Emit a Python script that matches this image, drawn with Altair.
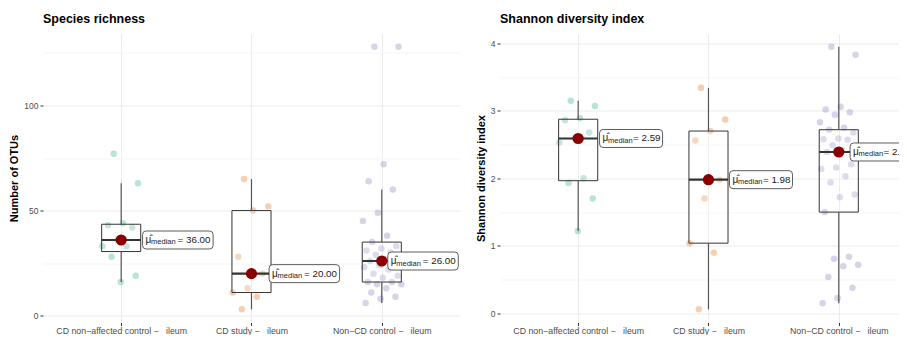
import altair as alt
import pandas as pd

# ---------------- data ----------------
groups = ["CD non\u2212affected control", "CD study", "Non\u2212CD control"]
palette = ["#1B9E77", "#D95F02", "#7570B3"]

richness_cd_nonaffected = [77, 63, 44, 43, 42, 36, 33, 33, 28, 19, 16]
richness_cd_study = [65, 52, 50, 28, 20, 13, 11, 9, 3]
richness_non_cd = [128, 128, 72, 64, 60, 49, 45, 38, 35, 33, 32, 31, 30, 29, 28, 27,
                   26, 25, 24, 23, 22, 20, 19, 18, 16, 16, 15, 15, 13, 11, 9, 8, 6]

shannon_cd_nonaffected = [3.15, 3.07, 2.89, 2.86, 2.68, 2.59, 2.53, 2.00, 1.93, 1.70, 1.22]
shannon_cd_study = [3.34, 2.87, 2.70, 2.56, 1.98, 1.70, 1.04, 0.90, 0.06]
shannon_non_cd = [3.95, 3.83, 3.06, 3.02, 2.98, 2.94, 2.83, 2.75, 2.72, 2.68, 2.59, 2.58,
                  2.57, 2.49, 2.46, 2.42, 2.39, 2.21, 2.16, 2.14, 2.03, 1.94, 1.76, 1.72,
                  1.50, 0.84, 0.81, 0.72, 0.70, 0.54, 0.38, 0.23, 0.15]

FONT = "Liberation Sans"
NB = "\u00a0"
PX_PER_UNIT = 130.3
PLOT_H = 289


def long_df(series):
    rows = []
    for k, (g, vals) in enumerate(zip(groups, series)):
        for i, v in enumerate(vals):
            rows.append({"group": g, "pos": k + 1, "i": i, "value": v})
    return pd.DataFrame(rows)


def label_expr(series):
    parts = []
    for k, (g, vals) in enumerate(zip(groups, series)):
        l1 = f"{g} \u2212{NB}{NB} ileum"
        l2 = f"(n = {len(vals)})"
        parts.append((k + 1, f"['{l1}', '{l2}']"))
    expr = parts[-1][1]
    for pos, arr in reversed(parts[:-1]):
        expr = f"datum.value == {pos} ? {arr} : ({expr})"
    return expr


def rounded_rect_path(w, h, r):
    s = w / 2.0
    hw, hh, rr = 1.0, h / 2.0 / s, r / s
    f = lambda v: f"{v:.4f}"
    return (f"M{f(-hw+rr)},{f(-hh)} L{f(hw-rr)},{f(-hh)} Q{f(hw)},{f(-hh)} {f(hw)},{f(-hh+rr)} "
            f"L{f(hw)},{f(hh-rr)} Q{f(hw)},{f(hh)} {f(hw-rr)},{f(hh)} "
            f"L{f(-hw+rr)},{f(hh)} Q{f(-hw)},{f(hh)} {f(-hw)},{f(hh-rr)} "
            f"L{f(-hw)},{f(-hh+rr)} Q{f(-hw)},{f(-hh)} {f(-hw+rr)},{f(-hh)} Z")


def panel(series, title, ytitle, major_step, minor_step, label_w, label_gaps, eq_dx, width):
    df = long_df(series)
    allv = [v for s in series for v in s]
    lo, hi = min(allv), max(allv)
    ex = (hi - lo) * 0.05
    ydom = [lo - ex, hi + ex]
    n_minor = int((hi + ex) // minor_step) + 1
    yvals = [round(j * minor_step, 4) for j in range(0, n_minor)]

    xs = alt.Scale(domain=[0.4, 0.4 + width / PX_PER_UNIT], nice=False, zero=False)
    ys = alt.Scale(domain=ydom, nice=False, zero=False)

    test_major = f"abs(datum.value / {major_step} - round(datum.value / {major_step})) < 0.001"
    xax = alt.Axis(values=[1, 2, 3], labelExpr=label_expr(series), grid=True,
                   gridColor="#EBEBEB", gridWidth=1, ticks=True, tickSize=3,
                   tickColor="#333333", labelFontSize=8.8, labelColor="#4D4D4D",
                   labelPadding=1, labelLineHeight=10, domain=False, labelFont=FONT)
    yax = alt.Axis(values=yvals, grid=True,
                   gridColor={"condition": {"test": test_major, "value": "#EBEBEB"}, "value": "#F5F5F5"},
                   tickOpacity={"condition": {"test": test_major, "value": 1}, "value": 0},
                   labelExpr=f"({test_major}) ? format(datum.value, '~g') : ''",
                   tickSize=3, tickColor="#333333", labelFontSize=8.5, labelColor="#4D4D4D",
                   labelPadding=2, domain=False, titleFontSize=11, titleFontWeight="bold",
                   titleColor="#000000", titlePadding=4, titleFont=FONT, labelFont=FONT)

    def X(f):
        return alt.X(f, scale=xs, axis=xax, title=None)

    def Y(f):
        return alt.Y(f, scale=ys, axis=yax, title=ytitle)

    base = alt.Chart(df)

    pts = base.transform_calculate(
        xj="datum.pos + ((datum.i * 0.618034 + 0.31) % 1 - 0.5) * 0.3"
    ).mark_circle(size=42, opacity=0.3).encode(
        x=X("xj:Q"), y=Y("value:Q"),
        color=alt.Color("group:N", scale=alt.Scale(domain=groups, range=palette), legend=None),
    )

    gaps = "[" + ", ".join(str(g) for g in label_gaps) + "]"
    stats = base.transform_joinaggregate(
        q1="q1(value)", q3="q3(value)", med="median(value)", groupby=["pos"]
    ).transform_calculate(
        lof="datum.q1 - 1.5 * (datum.q3 - datum.q1)",
        hif="datum.q3 + 1.5 * (datum.q3 - datum.q1)",
    ).transform_filter(
        "datum.value >= datum.lof && datum.value <= datum.hif"
    ).transform_aggregate(
        wmin="min(value)", wmax="max(value)", bq1="min(q1)", bq3="min(q3)", bmed="min(med)",
        groupby=["pos"],
    ).transform_calculate(
        xl="datum.pos - 0.15", xr="datum.pos + 0.15",
        lab="'= ' + format(datum.bmed, '.2f')",
        lx=f"datum.pos + {gaps}[datum.pos - 1] / {PX_PER_UNIT}",
    )

    box = stats.mark_rect(fill="white", fillOpacity=0.2, stroke="#333333", strokeWidth=1).encode(
        x=X("xl:Q"), x2="xr:Q", y=Y("bq1:Q"), y2="bq3:Q")
    wh_hi = stats.mark_rule(color="#555555", strokeWidth=1.2).encode(
        x=X("pos:Q"), y=Y("bq3:Q"), y2="wmax:Q")
    wh_lo = stats.mark_rule(color="#555555", strokeWidth=1.2).encode(
        x=X("pos:Q"), y=Y("wmin:Q"), y2="bq1:Q")
    med = stats.mark_rule(color="#333333", strokeWidth=2.2).encode(
        x=X("xl:Q"), x2="xr:Q", y=Y("bmed:Q"))
    dot = stats.mark_circle(color="#8B0000", size=125, opacity=1).encode(
        x=X("pos:Q"), y=Y("bmed:Q"))

    lbox = stats.mark_point(
        shape=rounded_rect_path(label_w, 18, 3.5), size=label_w * label_w, filled=True,
        fill="white", stroke="#333333", strokeWidth=0.8, opacity=1, fillOpacity=1,
        xOffset=label_w / 2.0, clip=True,
    ).encode(x=X("lx:Q"), y=Y("bmed:Q"))
    mu = stats.mark_text(text="\u03bc\u0302", align="left", baseline="middle", fontSize=10,
                         font=FONT, color="#1A1A1A", dx=3.0, clip=True).encode(
        x=X("lx:Q"), y=Y("bmed:Q"))
    sub = stats.mark_text(text="median", align="left", baseline="middle", fontSize=7.5,
                          font=FONT, color="#1A1A1A", dx=8.5, dy=2.5, clip=True).encode(
        x=X("lx:Q"), y=Y("bmed:Q"))
    val = stats.mark_text(align="left", baseline="middle", fontSize=9.8, font=FONT,
                          color="#1A1A1A", dx=eq_dx, clip=True).encode(
        x=X("lx:Q"), y=Y("bmed:Q"), text="lab:N")

    return alt.layer(pts, box, wh_hi, wh_lo, med, dot, lbox, mu, sub, val).properties(
        width=width, height=PLOT_H,
        title=alt.TitleParams(title, anchor="start", frame="group", fontSize=12.5,
                              fontWeight="bold", font=FONT, color="#000000", offset=8),
    )


left = panel([richness_cd_nonaffected, richness_cd_study, richness_non_cd],
             "Species richness", "Number of OTUs", 50, 25, 70.5, [21.4, 17.6, 6.0], 35.0, 417)
right = panel([shannon_cd_nonaffected, shannon_cd_study, shannon_non_cd],
              "Shannon diversity index", "Shannon diversity index", 1, 0.5, 63,
              [21.4, 21.0, 11.3], 33.5, 407)

chart = alt.hconcat(left, right, spacing=15).properties(
    padding={"left": 0, "top": 4.5, "right": -8.5, "bottom": -10.9}
).configure(font=FONT).configure_view(stroke=None).configure_axisY(minExtent=0)

chart.save("out.html", embed_options={"renderer": "svg", "actions": False})
